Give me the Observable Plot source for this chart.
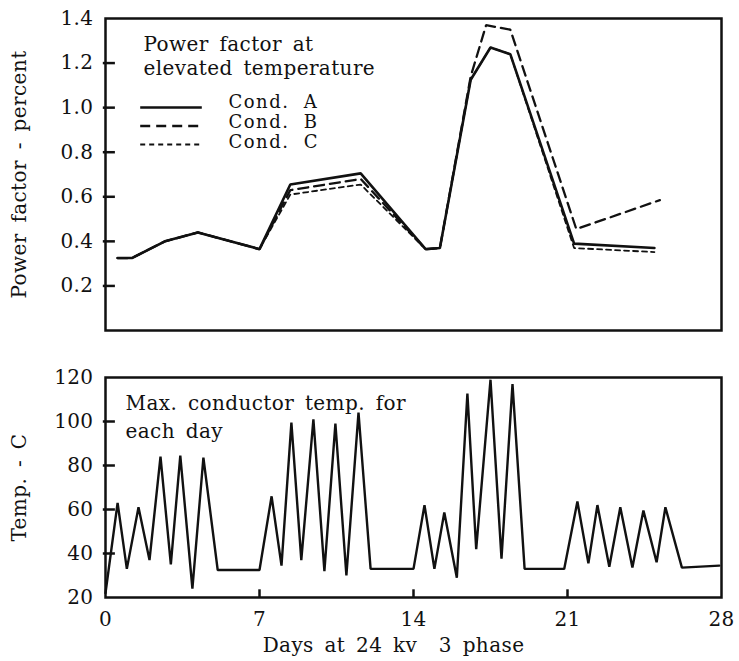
<!DOCTYPE html>
<html><head><meta charset="utf-8">
<script src="https://cdn.jsdelivr.net/npm/d3@7"></script>
<script src="https://cdn.jsdelivr.net/npm/@observablehq/plot@0.6"></script>
<style>
body{margin:0;background:#fff}
#chart svg{display:block}
#chart svg text{letter-spacing:0.4px;word-spacing:4px}
#chart svg .legend text{letter-spacing:1.5px;word-spacing:7px}
</style>
</head><body><div id="chart"></div>
<script>
// ---- Data ----
const daysA = [0.55, 1.2, 2.7, 4.2, 7.0, 8.4, 11.6, 14.55, 15.2, 16.6, 17.5, 18.4, 21.3, 24.95];
const pfA   = [0.325, 0.325, 0.40, 0.44, 0.365, 0.655, 0.705, 0.365, 0.37, 1.125, 1.27, 1.24, 0.39, 0.37];
const daysB = [0.55, 1.2, 2.7, 4.2, 7.0, 8.4, 11.6, 14.55, 15.2, 16.6, 17.3, 18.4, 21.4, 25.2];
const pfB   = [0.325, 0.325, 0.40, 0.44, 0.365, 0.63, 0.68, 0.365, 0.37, 1.14, 1.37, 1.35, 0.455, 0.585];
const daysC = [0.55, 1.2, 2.7, 4.2, 7.0, 8.4, 11.6, 14.55, 15.2, 16.6, 17.5, 18.4, 21.3, 24.95];
const pfC   = [0.325, 0.325, 0.40, 0.44, 0.365, 0.61, 0.655, 0.365, 0.37, 1.125, 1.27, 1.24, 0.37, 0.352];
const seriesNames = ["Cond. A", "Cond. B", "Cond. C"];

const tempDays = [0, 0.55, 0.97, 1.5, 2.0, 2.5, 2.97, 3.4, 3.95, 4.45, 5.1, 7.0, 7.55, 8.0, 8.45, 8.9, 9.45, 9.95, 10.45, 10.95, 11.5, 12.05, 14.0, 14.5, 14.95, 15.4, 15.97, 16.45, 16.85, 17.5, 18.0, 18.5, 19.05, 20.85, 21.45, 21.95, 22.36, 22.9, 23.4, 23.95, 24.45, 25.05, 25.45, 26.2, 27.9];
const temps    = [22, 63, 33, 61, 37, 84, 35, 84.5, 24, 83.6, 32.5, 32.5, 66, 34.5, 99.5, 37, 101, 32, 99, 30, 104, 33, 33, 62, 33, 58.6, 29, 112.7, 42, 119, 37.7, 117, 33, 33, 63.6, 35.5, 62, 34, 61, 33.6, 59.5, 36, 61, 33.6, 34.5];

const pfTicks = [0.2, 0.4, 0.6, 0.8, 1.0, 1.2, 1.4];
const tempTicks = [20, 40, 60, 80, 100, 120];
const dayTicks = [0, 7, 14, 21, 28];

// ---- Build tables ----
const pfRows = [];
[[daysA, pfA], [daysB, pfB], [daysC, pfC]].forEach(([ds, vs], i) => {
  ds.forEach((d, j) => pfRows.push({series: seriesNames[i], day: d, pf: vs[j]}));
});
const tempRows = tempDays.map((d, i) => ({day: d, temp: temps[i]}));
const pfTickRows = pfTicks.slice(0, -1).map(v => ({v}));
const tempTickRows = tempTicks.slice(1, -1).map(v => ({v}));
const dayTickRows = dayTicks.slice(1, -1).map(v => ({v}));

// ---- Styles ----
const font = "'DejaVu Serif', serif";
const FS = 20;
const W = 739, ML = 105, MR = 18;
const styles = {
  "Cond. A": {dash: null, width: 2.6},
  "Cond. B": {dash: "10,6", width: 2.3},
  "Cond. C": {dash: "5,4", width: 1.8}
};
const drawOrder = ["Cond. C", "Cond. B", "Cond. A"];

// legend: short swatch rules and labels in the upper-left of the frame
const legendMarks = seriesNames.map((name, i) =>
  Plot.ruleY([{v: 1.4}], {y: "v", x1: 1.6, x2: 4.4, dy: 89 + i * 18.5,
    stroke: "#111", strokeWidth: styles[name].width, strokeDasharray: styles[name].dash})
);
const legendText = seriesNames.map((name, i) =>
  Plot.text([name], {frameAnchor: "top-left", textAnchor: "start", lineAnchor: "top",
    dx: 123, dy: 77 + i * 20, fontSize: 18, fill: "#111", className: "legend"})
);

const topPlot = Plot.plot({
  width: W, height: 345,
  marginLeft: ML, marginRight: MR, marginTop: 18, marginBottom: 15,
  style: {fontFamily: font, fontSize: FS + "px", color: "#111", background: "#fff"},
  x: {domain: [0, 28], axis: null},
  y: {domain: [0, 1.4]},
  marks: [
    Plot.axisY(pfTicks, {tickSize: 0, tickPadding: 12, tickFormat: d3.format(".1f"),
      label: "Power factor - percent", labelAnchor: "center", labelOffset: 94, labelArrow: "none", fontSize: FS}),
    ...drawOrder.map(name => Plot.line(pfRows.filter(r => r.series === name), {
      x: "day", y: "pf", stroke: "#111", strokeWidth: styles[name].width,
      strokeDasharray: styles[name].dash, strokeLinejoin: "miter"
    })),
    Plot.text(["Power factor at\nelevated temperature"], {frameAnchor: "top-left", textAnchor: "start",
      lineAnchor: "top", dx: 38, dy: 15, lineHeight: 1.2, fontSize: FS, fill: "#111"}),
    ...legendMarks,
    ...legendText,
    Plot.frame({strokeWidth: 2.5, stroke: "#111"}),
    Plot.ruleY(pfTickRows, {y: "v", x1: -0.1, x2: 0.45, strokeWidth: 2.5, stroke: "#111"})
  ]
});

const BH = 316, BMT = 32, BMB = 64;
const bottomPlot = Plot.plot({
  width: W, height: BH,
  marginLeft: ML, marginRight: MR, marginTop: BMT, marginBottom: BMB,
  style: {fontFamily: font, fontSize: FS + "px", color: "#111", background: "#fff"},
  x: {domain: [0, 28]},
  y: {domain: [20, 120]},
  marks: [
    Plot.axisX(dayTicks, {tickSize: 0, tickPadding: 14, label: null, fontSize: FS}),
    Plot.axisY(tempTicks, {tickSize: 0, tickPadding: 12,
      label: "Temp. - C", labelAnchor: "center", labelOffset: 94, labelArrow: "none", fontSize: FS}),
    Plot.line(tempRows, {x: "day", y: "temp", stroke: "#111", strokeWidth: 2.4, strokeLinejoin: "miter"}),
    Plot.text(["Max. conductor temp. for\neach day"], {frameAnchor: "top-left", textAnchor: "start",
      lineAnchor: "top", dx: 20, dy: 13, lineHeight: 1.38, fontSize: FS, fill: "#111"}),
    Plot.text(["Days at 24 kv  3 phase"], {frameAnchor: "bottom", lineAnchor: "top", dx: -20, dy: 40,
      fontSize: FS, fill: "#111"}),
    Plot.frame({strokeWidth: 2.5, stroke: "#111"}),
    Plot.ruleX(dayTickRows, {x: "v", y1: 20, y2: 23.5, strokeWidth: 2.5, stroke: "#111"}),
    Plot.ruleY(tempTickRows, {y: "v", x1: -0.1, x2: 0.45, strokeWidth: 2.5, stroke: "#111"})
  ]
});

const chart = document.getElementById("chart");
chart.appendChild(topPlot);
chart.appendChild(bottomPlot);
</script>
</body></html>
